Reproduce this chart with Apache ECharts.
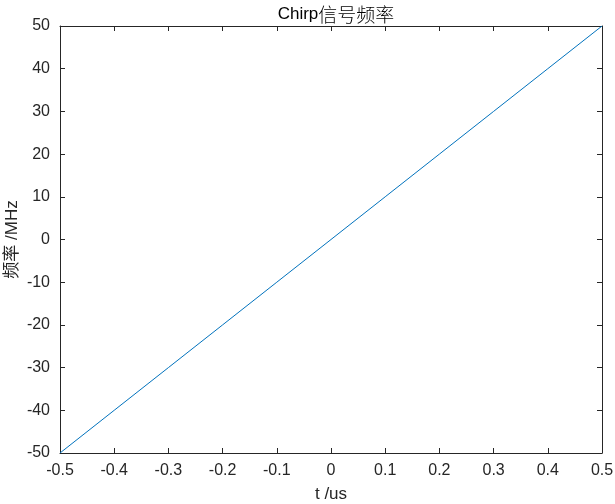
<!DOCTYPE html>
<html>
<head>
<meta charset="utf-8">
<script src="https://cdn.jsdelivr.net/npm/echarts@6/dist/echarts.min.js"></script>
<style>
html, body { margin: 0; padding: 0; background: #fff; }
#chart { width: 615px; height: 504px; }
</style>
</head>
<body>
<div id="chart"></div>
<script>
var tValues = [-0.5, -0.4, -0.3, -0.2, -0.1, 0, 0.1, 0.2, 0.3, 0.4, 0.5];
var freqValues = [-50, -40, -30, -20, -10, 0, 10, 20, 30, 40, 50];
var titleLatin = 'Chirp';
var titleCjk = '信号频率';
var xName = 't /us';
var yName = '频率 /MHz';

var chartDom = document.getElementById('chart');
var myChart = echarts.init(chartDom);

var points = [];
for (var i = 0; i < tValues.length; i++) {
    points.push([tValues[i], freqValues[i]]);
}

var fontFam = '"Liberation Sans", "Noto Sans CJK SC", sans-serif';
var axisCol = '#262626';

function xFmt(v) {
    return (Math.round(v * 10) / 10).toString();
}

var option = {
    animation: false,
    backgroundColor: '#fff',
    title: {
        text: '{a|' + titleLatin + '}{b|' + titleCjk + '}',
        left: 331,
        top: 0,
        textAlign: 'center',
        textStyle: {
            fontWeight: 'normal',
            rich: {
                a: { fontFamily: fontFam, fontSize: 17, fontWeight: 'normal', color: '#000' },
                b: { fontFamily: '"Noto Sans CJK SC", sans-serif', fontSize: 19, fontWeight: 300, color: '#000' }
            }
        }
    },
    grid: { left: 60, right: 13, top: 26, bottom: 51, containLabel: false, outerBoundsMode: 'none' },
    xAxis: [
        {
            type: 'value', min: -0.5, max: 0.5, interval: 0.1,
            name: xName, nameLocation: 'middle', nameGap: 33, nameMoveOverlap: false,
            nameTextStyle: { fontFamily: fontFam, fontSize: 17, color: axisCol },
            axisLine: { show: true, onZero: false, lineStyle: { color: axisCol, width: 1 } },
            axisTick: { show: true, inside: true, length: 5, lineStyle: { color: axisCol } },
            axisLabel: { fontFamily: fontFam, fontSize: 16, color: axisCol, margin: 10, formatter: xFmt },
            splitLine: { show: false }
        },
        {
            type: 'value', min: -0.5, max: 0.5, interval: 0.1, position: 'top',
            axisLine: { show: true, onZero: false, lineStyle: { color: axisCol, width: 1 } },
            axisTick: { show: true, inside: true, length: 5, lineStyle: { color: axisCol } },
            axisLabel: { show: false },
            splitLine: { show: false }
        }
    ],
    yAxis: [
        {
            type: 'value', min: -50, max: 50, interval: 10,
            name: yName, nameLocation: 'middle', nameGap: 39, nameMoveOverlap: false,
            nameTextStyle: { fontFamily: fontFam, fontSize: 17, color: axisCol },
            axisLine: { show: true, onZero: false, lineStyle: { color: axisCol, width: 1 } },
            axisTick: { show: true, inside: true, length: 5, lineStyle: { color: axisCol } },
            axisLabel: { fontFamily: fontFam, fontSize: 16, color: axisCol, margin: 10 },
            splitLine: { show: false }
        },
        {
            type: 'value', min: -50, max: 50, interval: 10, position: 'right',
            axisLine: { show: true, onZero: false, lineStyle: { color: axisCol, width: 1 } },
            axisTick: { show: true, inside: true, length: 5, lineStyle: { color: axisCol } },
            axisLabel: { show: false },
            splitLine: { show: false }
        }
    ],
    series: [
        {
            type: 'line',
            data: points,
            showSymbol: false,
            lineStyle: { color: '#0072BD', width: 1 },
            itemStyle: { color: '#0072BD' }
        }
    ]
};

myChart.setOption(option);
</script>
</body>
</html>
